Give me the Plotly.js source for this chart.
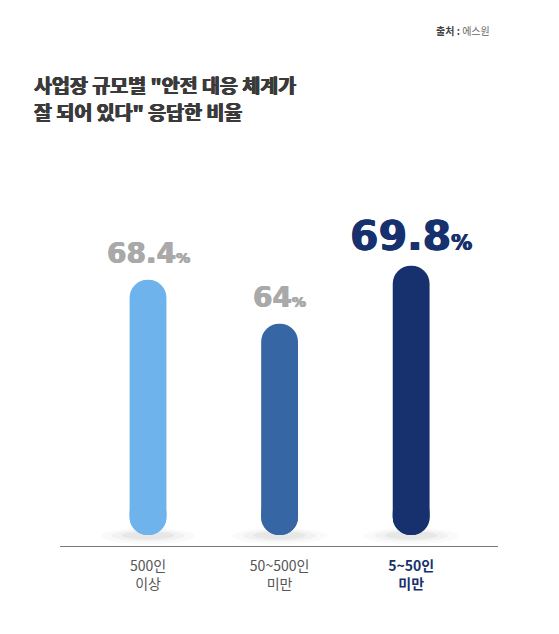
<!DOCTYPE html>
<html><head><meta charset="utf-8">
<script src="https://cdn.plot.ly/plotly-3.0.1.min.js"></script>
<style>html,body{margin:0;padding:0;background:#fff;}#chart{width:559px;height:634px;}</style>
</head><body><div id="chart"></div>
<script>
const categories = ["500인<br>이상", "50~500인<br>미만", "5~50인<br>미만"];
const values = [68.4, 64, 69.8];
const barColors = ["#6fb3ec", "#3766a5", "#17316e"];
const labelColors = ["#a9a9a9", "#a9a9a9", "#17316e"];
const labelSizes = [28, 28, 41];
const tickColors = ["#555555", "#555555", "#17316e"];
const tickBold = [false, false, true];
const titleLines = ["사업장 규모별 \"안전 대응 체계가", "잘 되어 있다\" 응답한 비율"];

const yMin = 41.77, yMax = 81.37;
const barBase = 42.87;     // visual bottom of the pills
const capLen = 4;          // length of the rounded bottom piece
const xIdx = categories.map((c, i) => i);

const topBars = {
  type: "bar", x: xIdx, base: barBase, y: values.map(v => v - barBase),
  width: 0.28, marker: {color: barColors, cornerradius: 18.5, line: {width: 0}},
  hoverinfo: "skip", showlegend: false
};
const bottomCaps = {
  type: "bar", x: xIdx, base: barBase + capLen, y: values.map(() => -capLen),
  width: 0.28, marker: {color: barColors, cornerradius: 18.5, line: {width: 0}},
  hoverinfo: "skip", showlegend: false
};

// soft shadow under each pill (stacked faint ellipses)
const shadowShapes = [];
xIdx.forEach(i => {
  [[0.36, 0.9, 0.02], [0.28, 0.65, 0.03], [0.2, 0.45, 0.045]].forEach(([hw, hh, op]) => {
    shadowShapes.push({type: "circle", xref: "x", yref: "y", layer: "below",
      x0: i - hw, x1: i + hw, y0: barBase - hh, y1: barBase + hh * 0.8,
      fillcolor: "rgba(0,0,0," + op + ")", line: {width: 0}});
  });
});

const valueAnnotations = values.map((v, i) => ({
  x: i, y: v, xref: "x", yref: "y", yanchor: "bottom", xanchor: "center",
  yshift: i === 2 ? 4 : 8, showarrow: false,
  text: "<b>" + v + "</b><span style='font-size:" + Math.round(labelSizes[i] * 0.5) + "px'><b>%</b></span>",
  font: {family: "DejaVu Sans", size: labelSizes[i], color: labelColors[i], weight: 900,
         shadow: "0.6px 0 0 " + labelColors[i] + ", -0.6px 0 0 " + labelColors[i]}
}));

const tickText = categories.map((c, i) => tickBold[i]
  ? "<b><span style='color:" + tickColors[i] + "'>" + c + "</span></b>"
  : "<span style='color:" + tickColors[i] + "'>" + c + "</span>");

const titleAnnotations = titleLines.map((t, i) => ({
  xref: "paper", yref: "paper", x: -0.062, y: 1 + (150 - 69 - i * 27) / 396,
  xanchor: "left", yanchor: "top", align: "left", showarrow: false, borderpad: 0,
  text: "<b>" + t + "</b>",
  font: {family: "Noto Sans CJK KR", size: 19.5, color: "#3a3a3a", weight: 900,
         shadow: "0.6px 0 0 #3a3a3a, -0.6px 0 0 #3a3a3a, 0 0.4px 0 #3a3a3a"}
}));

const layout = {
  width: 559, height: 634,
  margin: {l: 60, r: 61, t: 150, b: 88},
  paper_bgcolor: "#ffffff", plot_bgcolor: "#ffffff",
  barmode: "overlay",
  font: {family: "Noto Sans CJK KR", color: "#555555"},
  xaxis: {
    range: [-0.669, 2.66], tickvals: xIdx, ticktext: tickText,
    showgrid: false, zeroline: false, showline: true, linecolor: "#7a7a7a", linewidth: 1,
    ticks: "", ticklabelstandoff: 7,
    tickfont: {family: "Noto Sans CJK KR", size: 14, color: "#555555"}
  },
  yaxis: {range: [yMin, yMax], visible: false, showgrid: false, zeroline: false, fixedrange: true},
  shapes: shadowShapes,
  annotations: [
    ...titleAnnotations,
    {xref: "paper", yref: "paper", x: 1 + (492 - 498) / 438, y: 1 + (150 - 31) / 396,
     xanchor: "right", yanchor: "middle", showarrow: false,
     text: "<b>출처 :</b> <span style='color:#666666'>에스원</span>",
     font: {family: "Noto Sans CJK KR", size: 10, color: "#444444"}},
    ...valueAnnotations
  ]
};

Plotly.newPlot("chart", [topBars, bottomCaps], layout, {displayModeBar: false, staticPlot: true});
</script></body></html>
